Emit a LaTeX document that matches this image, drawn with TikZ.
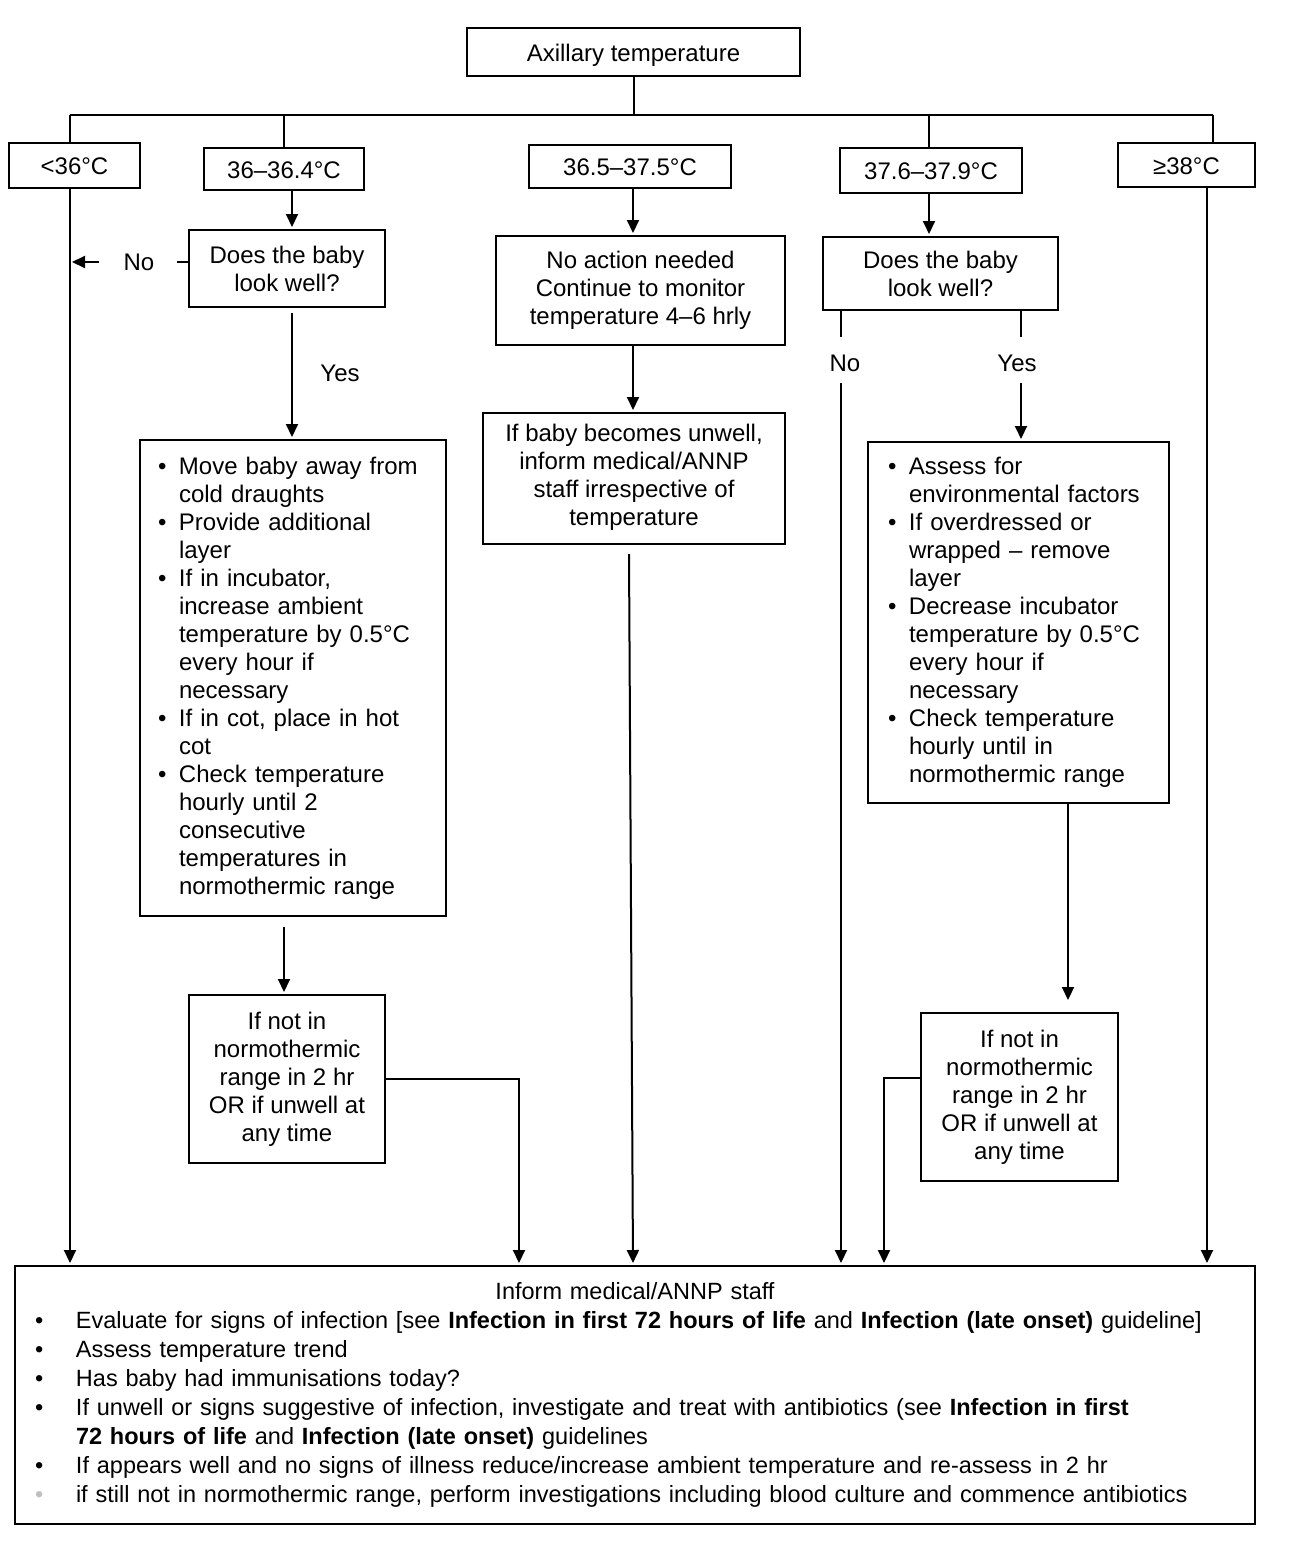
\documentclass[tikz,border=0pt]{standalone}
\usepackage{fontspec}
\setmainfont{Liberation Sans}
\usetikzlibrary{arrows.meta}
\newcommand\mybul{\makebox[21pt][l]{•}}
\newcommand\myind{\hspace*{21pt}}
\newcommand\botbul{\makebox[41pt][l]{•}}
\newcommand\greybul{\makebox[41pt][l]{\textcolor[gray]{0.75}{•}}}
\begin{document}
\begin{tikzpicture}[x=1pt,y=-1pt,
  every node/.style={font=\fontsize{24}{28}\selectfont},
  box/.style={draw,line width=2pt,inner sep=0pt,align=center},
  onel/.style={text height=18pt,text depth=0pt},
  arr/.style={line width=2pt,-{Triangle[width=12pt,length=13pt]},shorten >=2pt},
  ln/.style={line width=2pt},
  lab/.style={inner sep=0pt}]
\useasboundingbox (0,0) rectangle (1288,1542);

% boxes
\node[box,onel,minimum width=333,minimum height=48] (ax) at (633.5,52) {Axillary temperature};
\node[box,onel,minimum width=131,minimum height=45] (lt) at (74.5,165.5) {<36°C};
\node[box,onel,minimum width=160,minimum height=42] (t2) at (284,169) {36–36.4°C};
\node[box,onel,minimum width=202,minimum height=43] (t3) at (630,166.5) {36.5–37.5°C};
\node[box,onel,minimum width=182,minimum height=45] (t4) at (931,170.5) {37.6–37.9°C};
\node[box,onel,minimum width=137,minimum height=44] (t5) at (1186.5,165) {≥38°C};

\node[box,minimum width=196,minimum height=77] (q1) at (287,268.5) {Does the baby\\look well?};
\node[box,minimum width=289,minimum height=109] (m1) at (640.5,290.5) {No action needed\\Continue to monitor\\temperature 4–6 hrly};
\node[box,minimum width=302,minimum height=131,text depth=8pt] (m2) at (634,478.5) {If baby becomes unwell,\\inform medical/ANNP\\staff irrespective of\\temperature};
\node[box,minimum width=235,minimum height=73] (q2) at (940.5,273.5) {Does the baby\\look well?};

\node[box,minimum width=306,minimum height=476,text width=270,align=left] (b1) at (293,678) {%
\mybul Move baby away from\\
\myind cold draughts\\
\mybul Provide additional\\
\myind layer\\
\mybul If in incubator,\\
\myind increase ambient\\
\myind temperature by 0.5°C\\
\myind every hour if\\
\myind necessary\\
\mybul If in cot, place in hot\\
\myind cot\\
\mybul Check temperature\\
\myind hourly until 2\\
\myind consecutive\\
\myind temperatures in\\
\myind normothermic range};

\node[box,minimum width=301,minimum height=361,text width=261,align=left] (b2) at (1018.5,622.5) {%
\mybul Assess for\\
\myind environmental factors\\
\mybul If overdressed or\\
\myind wrapped – remove\\
\myind layer\\
\mybul Decrease incubator\\
\myind temperature by 0.5°C\\
\myind every hour if\\
\myind necessary\\
\mybul Check temperature\\
\myind hourly until in\\
\myind normothermic range};

\node[box,minimum width=196,minimum height=168] (n1) at (287,1079) {If not in\\normothermic\\range in 2 hr\\OR if unwell at\\any time};
\node[box,minimum width=197,minimum height=168] (n2) at (1019.5,1097) {If not in\\normothermic\\range in 2 hr\\OR if unwell at\\any time};

\node[box,minimum width=1240,minimum height=258,text width=1200,align=left,
      font=\fontsize{23.5}{29}\selectfont] (bot) at (635,1395) {%
\makebox[\linewidth]{Inform medical/ANNP staff}\\
\botbul Evaluate for signs of infection [see \textbf{Infection in first 72 hours of life} and \textbf{Infection (late onset)} guideline]\\
\botbul Assess temperature trend\\
\botbul Has baby had immunisations today?\\
\botbul If unwell or signs suggestive of infection, investigate and treat with antibiotics (see \textbf{Infection in first}\\
\hspace*{41pt}\textbf{72 hours of life} and \textbf{Infection (late onset)} guidelines\\
\botbul If appears well and no signs of illness reduce/increase ambient temperature and re-assess in 2 hr\\
\greybul if still not in normothermic range, perform investigations including blood culture and commence antibiotics};

% labels
\node[lab] (nol) at (139,262) {No};
\node[lab] (yesl) at (340,373) {Yes};
\node[lab] (no2) at (845,363) {No};
\node[lab] (yes2) at (1017,363) {Yes};

% helper coordinates
\coordinate (hl) at (70,115);
\coordinate (hr) at (1213,115);
\coordinate (br2) at (284,115);
\coordinate (br4) at (929,115);
\coordinate (mx) at (633,0);
\coordinate (c1) at (519,0);
\coordinate (nx) at (841,0);
\coordinate (yx) at (1021,0);
\coordinate (dx) at (1068,0);
\coordinate (c2) at (884,0);
\coordinate (rx) at (1207,0);
\coordinate (qx) at (292,0);
\coordinate (lx) at (284,0);

% top distribution
\draw[ln] (ax.south) -- (ax.south |- hl);
\draw[ln] (hl) -- (hr);
\draw[ln] (hl) -- (hl |- lt.north);
\draw[ln] (br2) -- (br2 |- t2.north);
\draw[ln] (br4) -- (br4 |- t4.north);
\draw[ln] (hr) -- (hr |- t5.north);

% <36
\draw[arr] (hl |- lt.south) -- (hl |- bot.north);

% 36-36.4
\draw[arr] (qx |- t2.south) -- (qx |- q1.north);
\draw[ln] (q1.west |- nol) -- ++(-11,0);
\coordinate (nolw) at ([xshift=-24pt]nol.west);
\draw[arr] (nolw) -- (hl |- nol);
\coordinate (q1s) at ([yshift=-5pt]q1.south);
\draw[arr] (qx |- q1s) -- (qx |- b1.north);
\coordinate (b1s) at ([yshift=-10pt]b1.south);
\draw[arr] (lx |- b1s) -- (lx |- n1.north);
\draw[arr] (n1.east) -| (c1 |- bot.north);

% 36.5-37.5
\draw[arr] (mx |- t3.south) -- (mx |- m1.north);
\draw[arr] (mx |- m1.south) -- (mx |- m2.north);
\coordinate (m2s) at ([xshift=-5pt,yshift=-9pt]m2.south);
\draw[arr] (m2s) -- (mx |- bot.north);

% 37.6-37.9
\draw[arr] (br4 |- t4.south) -- (br4 |- q2.north);
\coordinate (no2t) at ([yshift=26pt]no2.center);
\coordinate (no2b) at ([yshift=-20pt]no2.center);
\draw[ln] (nx |- q2.south) -- (nx |- no2t);
\draw[arr] (nx |- no2b) -- (nx |- bot.north);
\draw[ln] (yx |- q2.south) -- (yx |- no2t);
\draw[arr] (yx |- no2b) -- (yx |- b2.north);
\coordinate (n2t) at ([yshift=10pt]n2.north);
\draw[arr] (dx |- b2.south) -- (dx |- n2t);
\coordinate (n2w) at ([yshift=19pt]n2.west);
\draw[arr] (n2w) -| (c2 |- bot.north);

% >=38
\draw[arr] (rx |- t5.south) -- (rx |- bot.north);
\end{tikzpicture}
\end{document}
